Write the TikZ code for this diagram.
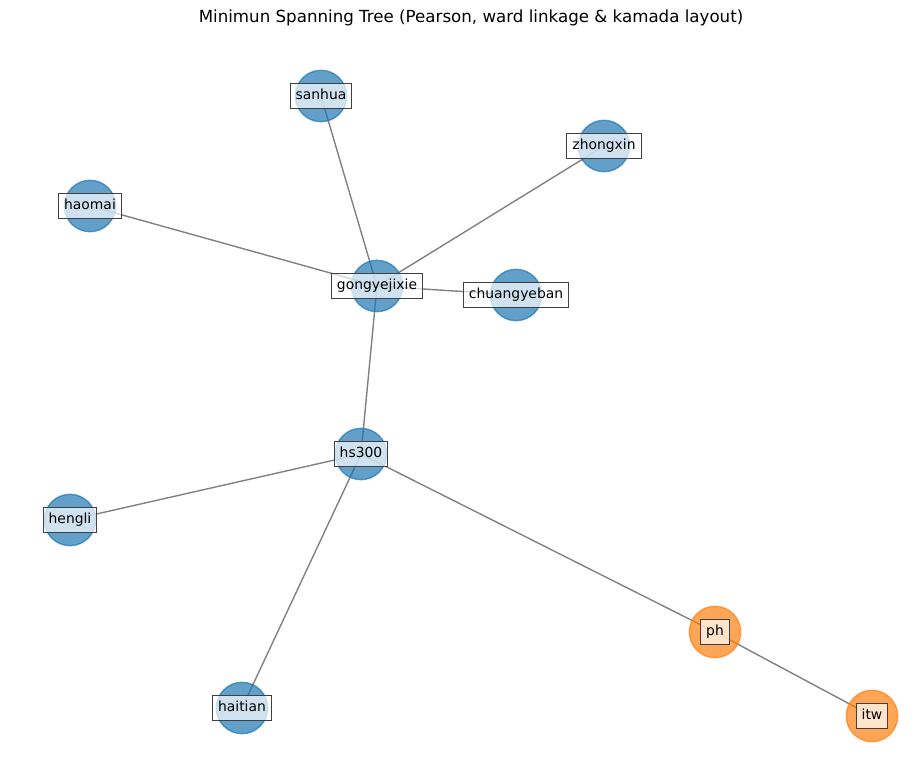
\documentclass[tikz,border=0pt]{standalone}
\usepackage{fontspec}
\setmainfont{DejaVu Sans}
\definecolor{tabblue}{HTML}{1F77B4}
\definecolor{taborange}{HTML}{FF7F0E}
\pgfdeclarelayer{bg}
\pgfsetlayers{bg,main}

\begin{document}
\begin{tikzpicture}[x=0.72pt, y=-0.72pt,
vert/.style={circle, fill=#1, draw=#1, fill opacity=0.7, draw opacity=0.7, line width=1pt, minimum size=37pt, inner sep=0pt},
lbl/.style={rectangle, draw=black!75, fill=white, fill opacity=0.7, text opacity=1, line width=0.8pt, font=\fontsize{10}{12}\selectfont, inner xsep=4pt, inner ysep=4pt, text height=7.6pt, text depth=2.4pt},
link/.style={draw=gray, line width=1pt}]
 \useasboundingbox (0,0) rectangle (922,761);
 \node[font=\fontsize{12}{14}\selectfont] (title) at (471,18) {Minimun Spanning Tree (Pearson, ward linkage \& kamada layout)};

 \node[vert=tabblue] (sanhua) at (321,96) {};
 \node[vert=tabblue] (zhongxin) at (604,146) {};
 \node[vert=tabblue] (haomai) at (90,206) {};
 \node[vert=tabblue] (gongyejixie) at (377,286) {};
 \node[vert=tabblue] (chuangyeban) at (516,295) {};
 \node[vert=tabblue] (hs300) at (361,454) {};
 \node[vert=tabblue] (hengli) at (70,520) {};
 \node[vert=taborange] (ph) at (715,632) {};
 \node[vert=tabblue] (haitian) at (242,708) {};
 \node[vert=taborange] (itw) at (872,716) {};

 \begin{pgfonlayer}{bg}
 \draw[link] (sanhua.center) -- (gongyejixie.center);
 \draw[link] (zhongxin.center) -- (gongyejixie.center);
 \draw[link] (haomai.center) -- (gongyejixie.center);
 \draw[link] (chuangyeban.center) -- (gongyejixie.center);
 \draw[link] (gongyejixie.center) -- (hs300.center);
 \draw[link] (hs300.center) -- (hengli.center);
 \draw[link] (hs300.center) -- (haitian.center);
 \draw[link] (hs300.center) -- (ph.center);
 \draw[link] (ph.center) -- (itw.center);
 \end{pgfonlayer}

 \node[lbl] (sanhua-l) at (sanhua) {sanhua};
 \node[lbl] (zhongxin-l) at (zhongxin) {zhongxin};
 \node[lbl] (haomai-l) at (haomai) {haomai};
 \node[lbl] (gongyejixie-l) at (gongyejixie) {gongyejixie};
 \node[lbl] (chuangyeban-l) at (chuangyeban) {chuangyeban};
 \node[lbl] (hs300-l) at (hs300) {hs300};
 \node[lbl] (hengli-l) at (hengli) {hengli};
 \node[lbl] (ph-l) at (ph) {ph};
 \node[lbl] (haitian-l) at (haitian) {haitian};
 \node[lbl] (itw-l) at (itw) {itw};

\end{tikzpicture}
\end{document}
